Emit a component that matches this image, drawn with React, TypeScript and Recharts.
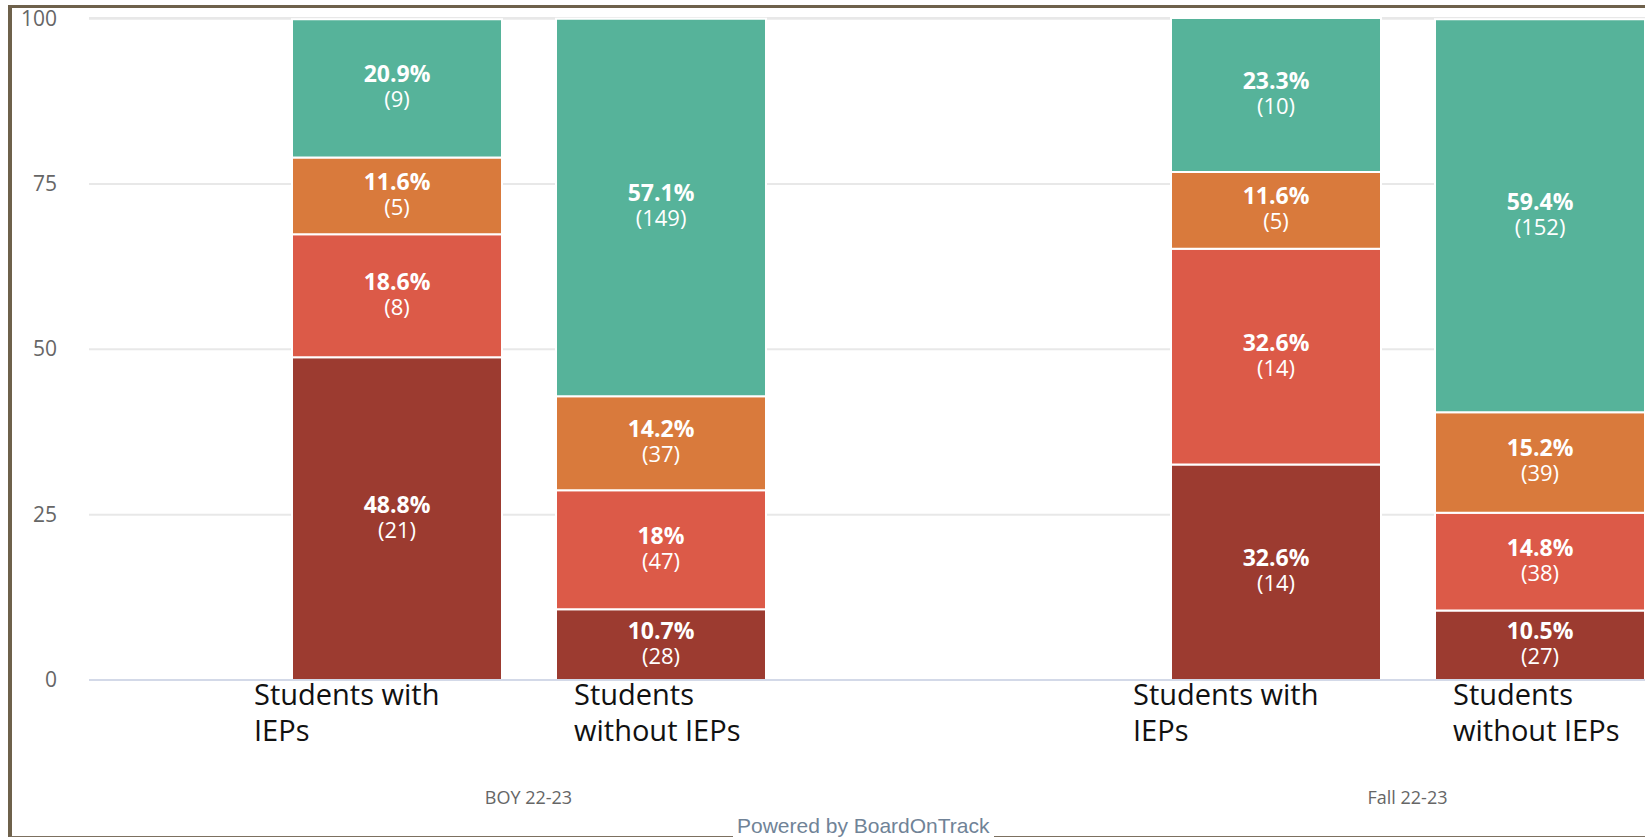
import React from 'react';
import { BarChart, Bar, XAxis, YAxis, CartesianGrid, LabelList } from 'recharts';

const categories = ['BOY 22-23', 'Fall 22-23'];
const yTicks = [0, 25, 50, 75, 100];

// percentages per level, bottom (level 1) to top (level 4)
const withL1Pct = [48.8, 32.6];
const withL2Pct = [18.6, 32.6];
const withL3Pct = [11.6, 11.6];
const withL4Pct = [20.9, 23.3];
const withoutL1Pct = [10.7, 10.5];
const withoutL2Pct = [18, 14.8];
const withoutL3Pct = [14.2, 15.2];
const withoutL4Pct = [57.1, 59.4];

// student counts
const withL1N = [21, 14];
const withL2N = [8, 14];
const withL3N = [5, 5];
const withL4N = [9, 10];
const withoutL1N = [28, 27];
const withoutL2N = [47, 38];
const withoutL3N = [37, 39];
const withoutL4N = [149, 152];

const withLabel = ['Students with', 'IEPs'];
const withoutLabel = ['Students', 'without IEPs'];

const LEVEL_COLORS = ['#9c3b30', '#dc5a48', '#d97a3c', '#56b39a'];
const FONT = '"Open Sans", "Noto Sans", sans-serif';

const series = [
  { key: 'with1', stack: 'with', pct: withL1Pct, n: withL1N, color: LEVEL_COLORS[0] },
  { key: 'with2', stack: 'with', pct: withL2Pct, n: withL2N, color: LEVEL_COLORS[1] },
  { key: 'with3', stack: 'with', pct: withL3Pct, n: withL3N, color: LEVEL_COLORS[2] },
  { key: 'with4', stack: 'with', pct: withL4Pct, n: withL4N, color: LEVEL_COLORS[3] },
  { key: 'without1', stack: 'without', pct: withoutL1Pct, n: withoutL1N, color: LEVEL_COLORS[0] },
  { key: 'without2', stack: 'without', pct: withoutL2Pct, n: withoutL2N, color: LEVEL_COLORS[1] },
  { key: 'without3', stack: 'without', pct: withoutL3Pct, n: withoutL3N, color: LEVEL_COLORS[2] },
  { key: 'without4', stack: 'without', pct: withoutL4Pct, n: withoutL4N, color: LEVEL_COLORS[3] },
];

const chartData = categories.map((name, i) => {
  const row: any = { name };
  series.forEach(s => {
    row[s.key] = s.pct[i];
  });
  return row;
});

const segmentLabel = (pcts: number[], counts: number[]) => (props: any) => {
  const { x, y, width, height, index } = props;
  const cx = Number(x) + Number(width) / 2;
  const cy = Number(y) + Number(height) / 2;
  return (
    <text x={cx} y={cy - 6} textAnchor="middle" fill="#fff" fontSize={23} fontFamily={FONT}>
      <tspan x={cx} fontWeight={700}>{pcts[index]}%</tspan>
      <tspan x={cx} dy={25} fontSize={22}>({counts[index]})</tspan>
    </text>
  );
};

const stackLabel = (lines: string[], dx: number) => (props: any) => {
  const { x, y, height } = props;
  const tx = Number(x) + dx;
  const ty = Number(y) + Number(height) + 25;
  return (
    <text x={tx} y={ty} fill="#111" fontSize={29} fontFamily={FONT}>
      {lines.map((line, i) => (
        <tspan key={i} x={tx} dy={i === 0 ? 0 : 36}>
          {line}
        </tspan>
      ))}
    </text>
  );
};

const YTick = ({ x, y, payload }: any) => (
  <text x={x} y={y} dy={7} textAnchor="end" fill="#666" fontSize={21} fontFamily={FONT}>
    {payload.value}
  </text>
);

const XTick = ({ x, y, payload }: any) => (
  <text x={x} y={y + 124} textAnchor="middle" fill="#666" fontSize={18} fontFamily={FONT}>
    {payload.value}
  </text>
);

export default function App() {
  return (
    <div
      style={{
        position: 'fixed',
        left: 0,
        top: 0,
        width: 1645,
        height: 838,
        overflow: 'hidden',
        background: '#fff',
        fontFamily: FONT,
      }}
    >
      <div
        style={{
          position: 'absolute',
          left: 8,
          top: 5,
          width: 1700,
          height: 832,
          boxSizing: 'border-box',
          borderLeft: '4px solid #6e614b',
          borderTop: '3px solid #6e614b',
          borderBottom: '1px solid #7c7060',
        }}
      />
      <div
        style={{
          position: 'absolute',
          left: 733,
          top: 813,
          padding: '0 4px',
          background: '#fff',
          color: '#708397',
          fontFamily: '"Liberation Sans", Arial, sans-serif',
          fontSize: 21,
          lineHeight: '25px',
        }}
      >
        Powered by BoardOnTrack
      </div>
      <div style={{ position: 'absolute', left: 0, top: 0 }}>
        <BarChart
          width={1847}
          height={838}
          data={chartData}
          margin={{ top: 18, right: 0, bottom: 0, left: 0 }}
          barSize={210}
          barGap={54}
        >
          <CartesianGrid vertical={false} stroke="#e8e8e8" strokeWidth={2} />
          <YAxis
            type="number"
            domain={[0, 100]}
            ticks={yTicks}
            width={89}
            axisLine={false}
            tickLine={false}
            tickSize={0}
            tickMargin={32}
            tick={<YTick />}
            interval={0}
          />
          <XAxis
            dataKey="name"
            height={158}
            axisLine={{ stroke: '#d3d9e8', strokeWidth: 2 }}
            tickLine={false}
            tickSize={0}
            tickMargin={0}
            tick={<XTick />}
            interval={0}
          />
          {series.map((s, si) => (
            <Bar
              key={s.key}
              dataKey={s.key}
              stackId={s.stack}
              fill={s.color}
              stroke="#fff"
              strokeWidth={2}
              isAnimationActive={false}
            >
              <LabelList dataKey={s.key} content={segmentLabel(s.pct, s.n)} />
              {si === 0 && <LabelList dataKey={s.key} content={stackLabel(withLabel, -38)} />}
              {si === 4 && <LabelList dataKey={s.key} content={stackLabel(withoutLabel, 18)} />}
            </Bar>
          ))}
        </BarChart>
      </div>
    </div>
  );
}
